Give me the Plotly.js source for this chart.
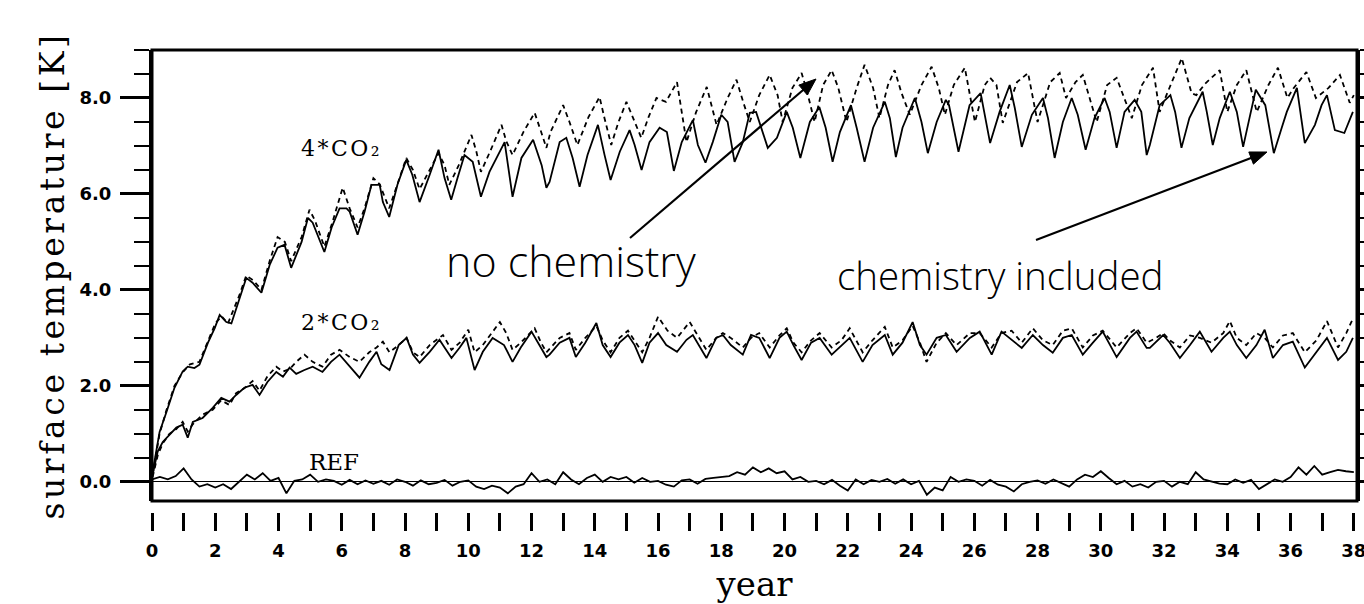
<!DOCTYPE html>
<html>
<head>
<meta charset="utf-8">
<script src="https://cdn.plot.ly/plotly-3.0.1.min.js"></script>
<style>html,body{margin:0;padding:0;background:#fff;}#chart{width:1364px;height:604px;}</style>
</head>
<body>
<div id="chart"></div>
<script>
// ---- 4*CO2, chemistry included (solid) ----
const t4chem = [0.02,0.24,0.46,0.71,0.97,1.13,1.34,1.5,1.77,1.98,2.14,2.35,2.51,2.77,2.98,3.18,3.46,3.72,3.97,4.19,4.4,4.73,4.93,5.08,5.24,5.45,5.68,5.93,6.15,6.25,6.5,6.72,6.94,7.2,7.3,7.5,7.76,8.04,8.23,8.46,8.78,9.06,9.25,9.46,9.66,9.88,10.14,10.4,10.67,11.15,11.4,11.68,12.05,12.32,12.47,12.57,12.89,13.1,13.3,13.52,13.77,14.1,14.31,14.5,14.79,15.1,15.26,15.48,15.73,16.05,16.28,16.5,16.75,17.1,17.26,17.5,17.73,18.0,18.2,18.42,18.68,18.9,19.1,19.32,19.47,19.76,20.07,20.26,20.5,20.8,21.1,21.3,21.52,21.75,22.1,22.28,22.53,22.8,23.17,23.33,23.52,23.73,24.12,24.33,24.53,24.81,25.1,25.2,25.5,25.85,26.2,26.5,26.8,27.12,27.28,27.5,27.82,28.17,28.33,28.54,28.8,29.08,29.27,29.52,29.8,30.12,30.28,30.5,30.75,31.07,31.28,31.45,31.55,31.86,32.2,32.35,32.55,32.8,33.22,33.35,33.54,33.76,34.08,34.3,34.5,34.7,34.9,35.2,35.47,35.72,35.88,36.2,36.45,36.77,36.98,37.15,37.3,37.4,37.7,37.97];
const v4chem = [0.2,1.04,1.46,1.96,2.3,2.4,2.37,2.44,2.9,3.2,3.48,3.33,3.3,3.83,4.25,4.15,3.94,4.52,4.88,4.94,4.46,5.0,5.5,5.4,5.15,4.79,5.3,5.7,5.7,5.63,5.15,5.63,6.19,6.19,5.83,5.52,6.19,6.71,6.4,5.83,6.4,6.92,6.33,5.88,6.33,6.81,6.67,5.94,6.46,7.08,5.94,6.75,7.13,6.6,6.13,6.25,7.08,7.17,6.75,6.15,6.81,7.44,6.81,6.29,6.88,7.33,7.02,6.5,7.08,7.38,7.29,6.48,7.08,7.54,7.02,6.65,7.08,7.65,7.5,6.67,7.08,7.69,7.71,7.29,6.96,7.17,7.71,7.38,6.75,7.5,7.81,7.38,6.67,7.29,7.85,7.38,6.67,7.38,7.92,7.58,6.77,7.38,8.0,7.5,6.85,7.5,7.96,7.85,6.88,7.85,8.1,7.06,7.71,8.27,7.79,6.98,7.65,8.0,7.58,6.75,7.5,8.0,7.65,6.92,7.58,8.0,7.71,6.96,7.71,7.96,7.71,6.81,7.02,7.85,8.06,7.71,6.96,7.58,8.13,7.71,7.02,7.58,8.13,7.71,6.98,7.58,8.17,7.85,6.85,7.38,7.71,8.21,7.06,7.44,7.85,8.06,7.65,7.33,7.27,7.71];

// ---- 4*CO2, no chemistry (dashed) ----
const t4nochem = [0.02,0.24,0.46,0.71,0.97,1.2,1.5,1.77,2.0,2.2,2.4,2.77,2.98,3.2,3.46,3.72,3.97,4.2,4.4,4.73,4.98,5.15,5.45,5.7,6.03,6.25,6.5,6.72,7.0,7.2,7.5,7.76,8.04,8.25,8.46,8.78,9.06,9.25,9.4,9.7,10.1,10.25,10.4,10.7,11.05,11.2,11.4,11.75,12.1,12.3,12.47,12.6,13.0,13.2,13.45,13.8,14.15,14.3,14.52,14.75,15.0,15.2,15.47,15.7,15.95,16.25,16.6,16.9,17.2,17.54,17.85,18.2,18.48,18.7,18.9,19.2,19.53,19.78,19.94,20.25,20.54,20.74,20.95,21.22,21.49,21.7,21.96,22.28,22.53,22.8,23.0,23.27,23.48,23.7,23.96,24.33,24.65,24.88,25.07,25.35,25.7,26.02,26.33,26.5,26.7,26.9,27.35,27.7,28.0,28.4,28.7,28.9,29.2,29.43,29.87,30.2,30.5,30.98,31.3,31.65,31.86,32.1,32.56,32.87,33.02,33.3,33.76,34.0,34.3,34.6,34.93,35.3,35.6,35.9,36.1,36.5,36.8,37.2,37.56,37.87,38.0];
const v4nochem = [0.15,1.0,1.5,2.0,2.28,2.45,2.5,2.95,3.3,3.45,3.3,3.9,4.3,4.2,4.0,4.6,5.1,5.0,4.6,5.1,5.67,5.45,4.9,5.4,6.13,5.7,5.3,5.7,6.33,6.2,5.7,6.2,6.75,6.5,6.1,6.5,6.85,6.6,6.19,6.6,7.23,6.9,6.46,6.9,7.44,7.1,6.81,7.3,7.69,7.3,6.96,7.29,7.85,7.5,7.02,7.6,8.02,7.6,7.02,7.5,7.92,7.6,7.17,7.6,8.0,7.92,8.33,7.08,7.7,8.23,7.44,8.0,8.38,7.9,7.5,8.06,8.48,8.06,7.5,8.21,8.52,8.06,7.5,8.27,8.58,8.21,7.5,8.21,8.69,8.21,7.58,8.27,8.58,8.1,7.65,8.27,8.65,8.2,7.65,8.27,8.63,7.5,8.27,8.42,8.27,7.48,8.33,8.52,7.5,8.33,8.52,8.0,8.33,8.48,7.5,8.27,8.42,7.58,8.27,8.63,7.71,8.1,8.83,8.1,8.06,8.3,8.58,7.71,8.27,8.58,7.71,8.27,8.63,8.0,8.21,8.54,8.0,8.21,8.48,7.9,8.06];

// ---- 2*CO2, chemistry included (solid) ----
const t2chem = [0.02,0.18,0.34,0.55,0.77,0.97,1.13,1.29,1.6,1.92,2.19,2.45,2.66,2.92,3.18,3.4,3.65,3.93,4.14,4.35,4.56,4.82,5.08,5.39,5.66,5.93,6.25,6.56,6.87,7.1,7.25,7.51,7.8,8.05,8.25,8.46,8.78,9.09,9.25,9.47,9.73,9.94,10.2,10.46,10.77,11.13,11.4,11.66,12.0,12.25,12.47,12.57,12.89,13.2,13.4,13.7,14.05,14.25,14.5,14.78,15.05,15.26,15.5,15.73,16.0,16.26,16.6,16.9,17.1,17.53,17.84,18.05,18.3,18.68,18.94,19.2,19.53,19.84,20.07,20.28,20.54,20.84,21.11,21.49,21.8,22.06,22.47,22.78,23.17,23.42,23.73,24.05,24.28,24.49,24.81,25.1,25.44,25.86,26.17,26.55,26.86,27.18,27.5,27.85,28.17,28.48,28.8,29.08,29.43,29.75,30.06,30.5,30.92,31.13,31.45,31.55,31.97,32.18,32.5,32.82,33.13,33.5,33.87,34.08,34.3,34.6,34.92,35.18,35.44,35.76,36.07,36.45,36.82,37.15,37.5,37.76,37.97];
const v2chem = [0.15,0.63,0.83,0.98,1.13,1.19,0.92,1.25,1.33,1.54,1.75,1.67,1.81,1.96,2.02,1.81,2.08,2.29,2.19,2.38,2.25,2.33,2.4,2.29,2.5,2.65,2.4,2.17,2.5,2.71,2.45,2.33,2.85,3.0,2.65,2.48,2.71,2.96,2.8,2.58,2.8,3.0,2.33,2.71,3.0,2.85,2.5,2.8,3.13,2.85,2.6,2.65,2.9,3.0,2.6,2.9,3.31,2.85,2.6,2.9,3.06,2.85,2.48,2.9,3.1,2.85,2.71,2.96,3.06,2.58,3.0,3.06,2.85,2.65,3.06,3.0,2.58,3.0,3.13,2.85,2.54,2.9,3.0,2.65,2.85,3.0,2.5,2.85,3.06,2.65,2.9,3.33,2.85,2.65,3.0,3.06,2.71,3.0,3.13,2.65,3.13,2.96,2.79,3.06,2.85,2.69,3.0,3.06,2.65,2.9,3.13,2.6,3.0,3.13,2.79,2.79,3.06,2.9,2.58,2.85,3.13,2.71,3.0,3.13,2.85,2.58,2.85,3.17,2.58,2.85,2.92,2.38,2.71,3.0,2.54,2.71,3.0];

// ---- 2*CO2, no chemistry (dashed) ----
const t2nochem = [0.02,0.18,0.34,0.55,0.77,0.97,1.13,1.29,1.6,1.92,2.19,2.45,2.66,2.92,3.18,3.4,3.65,3.93,4.14,4.35,4.56,4.82,5.08,5.39,5.66,5.93,6.25,6.56,6.87,7.1,7.3,7.51,7.8,8.05,8.25,8.46,8.78,9.2,9.47,9.73,10.0,10.2,10.46,11.0,11.2,11.4,11.66,12.1,12.3,12.47,12.89,13.2,13.4,13.7,14.05,14.25,14.5,14.78,15.05,15.26,15.5,15.73,16.0,16.3,16.6,17.0,17.2,17.53,17.84,18.05,18.3,18.68,18.94,19.2,19.53,19.84,20.07,20.28,20.54,20.84,21.11,21.49,21.8,22.06,22.47,22.78,23.17,23.42,23.73,24.05,24.28,24.49,24.81,25.1,25.44,25.86,26.17,26.55,26.86,27.18,27.5,27.85,28.17,28.48,28.8,29.08,29.43,29.75,30.06,30.5,30.92,31.13,31.45,31.75,31.97,32.18,32.5,32.82,33.13,33.5,33.87,34.08,34.3,34.6,34.92,35.18,35.44,35.76,36.07,36.45,36.82,37.15,37.5,37.76,37.97];
const v2nochem = [0.1,0.55,0.8,1.0,1.1,1.25,1.05,1.2,1.4,1.5,1.7,1.6,1.85,1.95,2.1,1.9,2.2,2.4,2.3,2.35,2.5,2.65,2.5,2.4,2.65,2.75,2.6,2.5,2.7,2.8,2.92,2.7,2.85,3.0,2.7,2.6,2.85,3.06,2.75,2.9,3.17,2.7,2.85,3.33,3.1,2.75,2.9,3.2,2.9,2.7,3.0,3.1,2.75,3.0,3.25,2.95,2.7,3.0,3.15,2.95,2.7,3.0,3.44,3.15,3.0,3.33,3.1,2.75,3.0,3.1,3.0,2.8,3.0,3.1,2.8,3.05,3.2,2.9,2.7,2.95,3.1,2.8,2.95,3.2,2.7,2.95,3.23,2.8,2.95,3.25,2.9,2.5,2.9,3.1,2.85,3.1,3.1,2.8,3.1,3.15,2.9,3.2,2.95,2.85,3.15,3.2,2.8,3.05,3.15,2.8,3.1,3.2,2.9,3.0,3.1,2.95,2.8,3.05,3.0,2.9,3.1,3.35,3.0,2.85,3.1,3.0,2.8,3.05,3.1,2.7,2.95,3.35,2.8,3.1,3.4];

// ---- REF (quarter-year readings) ----
const tRef = [];
for (let i = 0; i <= 152; i++) tRef.push(i * 0.25);
const vRef = [0.05,0.1,0.05,0.12, 0.28,0.05,-0.1,-0.05, -0.12,-0.05,-0.15,0.0, 0.15,0.05,0.18,0.02,
  0.08,-0.24,0.02,0.05, 0.15,0.0,0.05,0.02, -0.06,0.04,-0.05,0.03, -0.04,0.02,-0.06,0.05,
  0.0,-0.08,0.03,-0.05, -0.02,0.04,-0.08,0.0, 0.03,-0.1,-0.15,-0.08, -0.12,-0.24,-0.1,-0.05,
  0.18,0.0,0.05,-0.05, 0.2,0.05,-0.05,0.08, 0.15,0.0,0.1,0.05, 0.1,-0.02,0.08,0.0,
  0.02,-0.06,-0.1,0.03, 0.05,-0.04,0.06,0.08, 0.1,0.12,0.2,0.15, 0.3,0.2,0.28,0.18,
  0.22,0.05,0.1,0.0, 0.02,-0.05,0.04,-0.08, -0.18,0.05,-0.05,0.04, 0.0,0.06,-0.04,0.05,
  -0.05,0.02,-0.27,-0.12, -0.18,0.1,0.0,0.05, 0.02,-0.08,0.04,-0.06, -0.1,-0.2,-0.05,0.0,
  0.03,-0.04,0.05,-0.02, -0.1,0.05,0.15,0.1, 0.22,0.08,-0.05,0.02, -0.1,-0.05,-0.12,0.0,
  0.02,-0.1,0.0,-0.05, 0.2,0.05,0.0,-0.04, -0.05,0.05,-0.02,0.04, -0.15,-0.05,0.05,0.0,
  0.1,0.3,0.15,0.33, 0.15,0.2,0.25,0.22, 0.2];

// ---- tick labels ----
const yTickVals = [0, 2, 4, 6, 8];
const yTickText = ['0.0', '2.0', '4.0', '6.0', '8.0'];

// ---- page geometry (pixels) used only to place arrows / labels ----
const W = 1364, H = 604, ML = 152, MR = 7, MT = 50, MB = 92;
const PW = W - ML - MR, PH = H - MT - MB;
const px = x => (x - ML) / PW;
const py = y => (H - MB - y) / PH;
function arrowShapes(x0, y0, x1, y1) {
  const dx = x1 - x0, dy = y1 - y0, L = Math.hypot(dx, dy);
  const ux = dx / L, uy = dy / L, nx = -uy, ny = ux;
  const hl = 17, hw = 6.5;
  const bx = x1 - ux * hl, by = y1 - uy * hl;
  const p = (x, y) => px(x).toFixed(5) + ',' + py(y).toFixed(5);
  return [
    {type: 'line', xref: 'paper', yref: 'paper', x0: px(x0), y0: py(y0), x1: px(bx + ux * 2), y1: py(by + uy * 2), line: {color: '#000', width: 2.2}},
    {type: 'path', xref: 'paper', yref: 'paper',
     path: 'M' + p(x1, y1) + ' L' + p(bx + nx * hw, by + ny * hw) + ' L' + p(bx - nx * hw, by - ny * hw) + ' Z',
     fillcolor: '#000', line: {color: '#000', width: 1}}
  ];
}

const solid = {color: '#000', width: 1.8, dash: 'solid'};
const dashed = {color: '#000', width: 1.8, dash: '5px,4px'};

const traces = [
  {x: tRef, y: vRef, mode: 'lines', line: solid, name: 'REF'},
  {x: t2nochem, y: v2nochem, mode: 'lines', line: dashed, name: '2*CO2 no chemistry'},
  {x: t2chem, y: v2chem, mode: 'lines', line: solid, name: '2*CO2 chemistry included'},
  {x: t4nochem, y: v4nochem, mode: 'lines', line: dashed, name: '4*CO2 no chemistry'},
  {x: t4chem, y: v4chem, mode: 'lines', line: solid, name: '4*CO2 chemistry included'}
];

const tickFont = {family: 'DejaVu Sans', size: 18, color: '#000', weight: 'bold'};
const serif = 'DejaVu Serif';
const labelFont = {family: serif, size: 22, color: '#000'};

const layout = {
  width: W, height: H,
  margin: {l: ML, r: MR, t: MT, b: MB, pad: 0},
  paper_bgcolor: '#fff', plot_bgcolor: '#fff',
  showlegend: false,
  hovermode: false,
  xaxis: {
    range: [0, 38.1],
    anchor: 'free', position: 0,
    showline: false, showgrid: false, zeroline: false,
    tickmode: 'linear', tick0: 0, dtick: 2,
    ticks: 'outside', ticklen: 18, tickwidth: 3, tickcolor: '#000',
    minor: {tickmode: 'linear', tick0: 0, dtick: 1, ticks: 'outside', ticklen: 18, tickwidth: 3, tickcolor: '#000', showgrid: false},
    tickfont: tickFont, ticklabelstandoff: 4, ticklabeloverflow: 'allow',
    title: {text: '\u00a0\u00a0year', font: {family: serif, size: 34, color: '#000'}, standoff: 32}
  },
  yaxis: {
    domain: [0.0238, 1],
    range: [-0.4, 9.0],
    showline: true, linewidth: 3, linecolor: '#000', mirror: 'allticks',
    showgrid: false,
    zeroline: true, zerolinewidth: 1, zerolinecolor: '#000',
    tickmode: 'array', tickvals: yTickVals, ticktext: yTickText,
    ticks: 'outside', ticklen: 29, tickwidth: 3, tickcolor: '#000',
    minor: {tickmode: 'linear', tick0: 0, dtick: 0.5, ticks: 'outside', ticklen: 15, tickwidth: 1.5, tickcolor: '#000', showgrid: false},
    tickfont: tickFont, ticklabelstandoff: 5,
    title: {text: '<span style="letter-spacing:3.6px">surface temperature [K]</span>', font: {family: serif, size: 33, color: '#000'}, standoff: 5}
  },
  shapes: [
    {type: 'rect', xref: 'x domain', yref: 'y domain', x0: 0, x1: 1, y0: 0, y1: 1, line: {color: '#000', width: 3}, fillcolor: 'rgba(0,0,0,0)'}
  ].concat(arrowShapes(630, 238, 816, 79), arrowShapes(1036, 240, 1267, 152)),
  annotations: [
    {xref: 'paper', yref: 'paper', x: px(299), y: py(148), xanchor: 'left', yanchor: 'middle', text: '<span style="letter-spacing:2.5px">4*CO₂</span>', showarrow: false, font: labelFont},
    {xref: 'paper', yref: 'paper', x: px(299), y: py(322), xanchor: 'left', yanchor: 'middle', text: '<span style="letter-spacing:2.5px">2*CO₂</span>', showarrow: false, font: labelFont},
    {xref: 'paper', yref: 'paper', x: px(307), y: py(462), xanchor: 'left', yanchor: 'middle', text: 'REF', showarrow: false, font: {family: serif, size: 23, color: '#000'}},
    {xref: 'paper', yref: 'paper', x: px(571), y: py(260), xanchor: 'center', yanchor: 'middle', text: 'no chemistry', showarrow: false, font: {family: 'Open Sans', size: 43, color: '#000', weight: 300}},
    {xref: 'paper', yref: 'paper', x: px(1000), y: py(275), xanchor: 'center', yanchor: 'middle', text: 'chemistry included', showarrow: false, font: {family: 'Open Sans', size: 38.5, color: '#000', weight: 300}}
  ]
};

Plotly.newPlot('chart', traces, layout, {displayModeBar: false, staticPlot: true});
</script>
</body>
</html>
